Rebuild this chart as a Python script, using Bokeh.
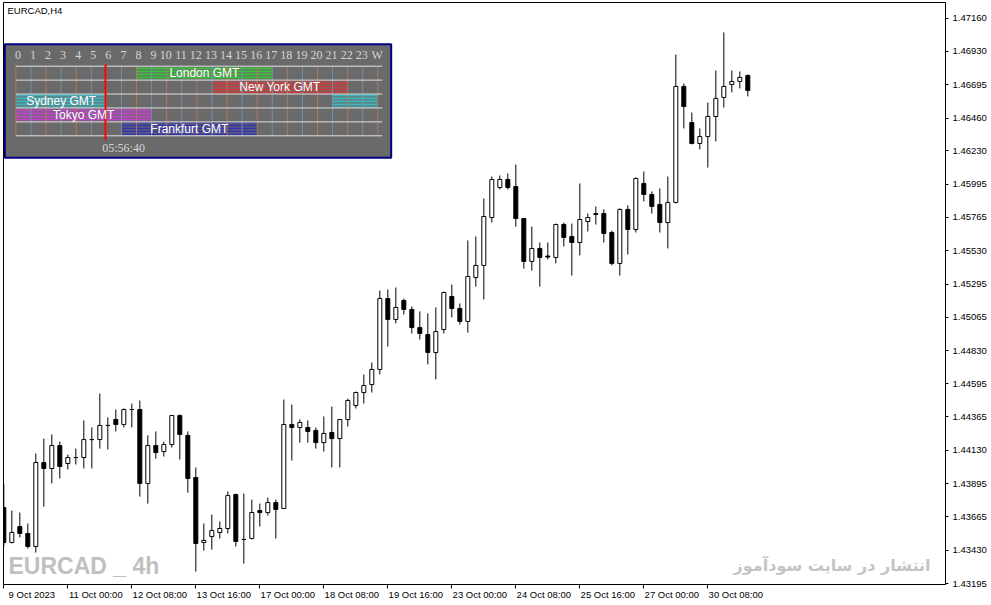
from bokeh.plotting import figure
from bokeh.models import Range1d, FixedTicker, PrintfTickFormatter, LinearAxis, ColumnDataSource
from bokeh.core.properties import value
from bokeh.embed import file_html
from bokeh.resources import INLINE

# ---------------- data ----------------
chart_title = "EURCAD,H4"
watermark = "EURCAD _ 4h"
publisher = "انتشار در سایت سودآموز"

opens = [1.43728, 1.43483, 1.43595, 1.43546, 1.43455, 1.44044, 1.44002, 1.44163, 1.44037, 1.44079,
         1.44079, 1.44205, 1.44205, 1.44304, 1.44346, 1.44311, 1.44416, 1.44416, 1.43897, 1.44163,
         1.44121, 1.44170, 1.44374, 1.44234, 1.43939, 1.43483, 1.43525, 1.43553, 1.43581, 1.43819,
         1.43504, 1.43511, 1.43707, 1.43693, 1.43763, 1.43721, 1.44311, 1.44290, 1.44290, 1.44269,
         1.44184, 1.44255, 1.44212, 1.44346, 1.44444, 1.44535, 1.44591, 1.44697, 1.45195, 1.45048,
         1.45181, 1.45118, 1.44991, 1.44942, 1.44816, 1.44977, 1.45209, 1.45125, 1.45034, 1.45342,
         1.45427, 1.45763, 1.45974, 1.46030, 1.45981, 1.45756, 1.45455, 1.45546, 1.45493, 1.45483,
         1.45714, 1.45630, 1.45588, 1.45735, 1.45791, 1.45791, 1.45658, 1.45441, 1.45820, 1.45679,
         1.46002, 1.45925, 1.45855, 1.45728, 1.45869, 1.46683, 1.46430, 1.46283, 1.46332, 1.46472,
         1.46606, 1.46697, 1.46718, 1.46760]
highs = [1.43890, 1.43707, 1.43693, 1.43616, 1.44107, 1.44212, 1.44241, 1.44191, 1.44100, 1.44142,
         1.44339, 1.44290, 1.44528, 1.44360, 1.44416, 1.44423, 1.44458, 1.44479, 1.44234, 1.44262,
         1.44191, 1.44374, 1.44381, 1.44262, 1.44009, 1.43616, 1.43679, 1.43630, 1.43840, 1.43826,
         1.43826, 1.43784, 1.43756, 1.43798, 1.43784, 1.44486, 1.44451, 1.44346, 1.44339, 1.44290,
         1.44367, 1.44437, 1.44346, 1.44493, 1.44542, 1.44662, 1.44746, 1.45251, 1.45258, 1.45272,
         1.45195, 1.45139, 1.45104, 1.45090, 1.45132, 1.45244, 1.45293, 1.45160, 1.45602, 1.45630,
         1.45897, 1.46051, 1.46058, 1.46072, 1.46135, 1.45756, 1.45700, 1.45588, 1.45588, 1.45721,
         1.45728, 1.45721, 1.46002, 1.45791, 1.45841, 1.45820, 1.45672, 1.45827, 1.45848, 1.46044,
         1.46086, 1.45946, 1.45967, 1.46051, 1.46907, 1.46704, 1.46500, 1.46388, 1.46570, 1.46795,
         1.47062, 1.46795, 1.46788, 1.46767]
lows = [1.43455, 1.43476, 1.43518, 1.43440, 1.43412, 1.43735, 1.43897, 1.43932, 1.43995, 1.44030,
        1.44002, 1.44002, 1.44142, 1.44135, 1.44262, 1.44290, 1.44290, 1.43805, 1.43756, 1.44072,
        1.44086, 1.44149, 1.44065, 1.43833, 1.43279, 1.43426, 1.43433, 1.43511, 1.43546, 1.43455,
        1.43335, 1.43504, 1.43595, 1.43672, 1.43511, 1.43721, 1.44058, 1.44184, 1.44184, 1.44142,
        1.44121, 1.44009, 1.44009, 1.44297, 1.44423, 1.44458, 1.44535, 1.44662, 1.44858, 1.45020,
        1.45083, 1.44949, 1.44907, 1.44732, 1.44627, 1.44949, 1.45062, 1.45012, 1.44956, 1.45279,
        1.45188, 1.45728, 1.45960, 1.45960, 1.45700, 1.45405, 1.45391, 1.45279, 1.45469, 1.45441,
        1.45560, 1.45356, 1.45497, 1.45665, 1.45714, 1.45588, 1.45427, 1.45356, 1.45504, 1.45658,
        1.45876, 1.45791, 1.45658, 1.45546, 1.45862, 1.46388, 1.46276, 1.46241, 1.46114, 1.46297,
        1.46535, 1.46641, 1.46669, 1.46613]
closes = [1.43483, 1.43553, 1.43546, 1.43455, 1.44044, 1.44002, 1.44163, 1.44016, 1.44079, 1.44079,
          1.44205, 1.44205, 1.44304, 1.44304, 1.44311, 1.44416, 1.44416, 1.43897, 1.44163, 1.44114,
          1.44170, 1.44374, 1.44241, 1.43932, 1.43476, 1.43497, 1.43567, 1.43581, 1.43812, 1.43490,
          1.43504, 1.43693, 1.43693, 1.43763, 1.43714, 1.44311, 1.44290, 1.44325, 1.44262, 1.44184,
          1.44248, 1.44212, 1.44346, 1.44479, 1.44535, 1.44584, 1.44697, 1.45195, 1.45048, 1.45132,
          1.45118, 1.44991, 1.44949, 1.44816, 1.44963, 1.45237, 1.45125, 1.45034, 1.45349, 1.45427,
          1.45770, 1.46030, 1.46030, 1.45974, 1.45756, 1.45455, 1.45546, 1.45483, 1.45486, 1.45714,
          1.45623, 1.45588, 1.45749, 1.45763, 1.45784, 1.45651, 1.45441, 1.45820, 1.45679, 1.46037,
          1.45925, 1.45841, 1.45728, 1.45869, 1.46683, 1.46542, 1.46283, 1.46332, 1.46472, 1.46599,
          1.46683, 1.46718, 1.46746, 1.46655]

time_ticks = [0, 8, 16, 24, 32, 40, 48, 56, 64, 72, 80, 88]
time_labels = ["9 Oct 2023", "11 Oct 00:00", "12 Oct 08:00", "13 Oct 16:00", "17 Oct 00:00",
               "18 Oct 08:00", "19 Oct 16:00", "23 Oct 00:00", "24 Oct 08:00", "25 Oct 16:00",
               "27 Oct 00:00", "30 Oct 08:00"]
price_ticks = [1.47160, 1.46930, 1.46695, 1.46460, 1.46230, 1.45995, 1.45765, 1.45530, 1.45295,
               1.45065, 1.44830, 1.44595, 1.44365, 1.44130, 1.43895, 1.43665, 1.43430, 1.43195]

# session panel
hour_labels = ["0", "1", "2", "3", "4", "5", "6", "7", "8", "9", "10", "11", "12", "13", "14",
               "15", "16", "17", "18", "19", "20", "21", "22", "23", "W"]
session_names = ["London GMT", "New York GMT", "Sydney GMT", "Tokyo GMT", "Frankfurt GMT"]
session_start = [8, 13, 21, 0, 7]
session_end = [17, 22, 6, 9, 16]
session_colors = ["#3cc03c", "#c83c3c", "#3cb8c0", "#c044c8", "#3434a8"]
current_time = "05:56:40"

# ---------------- layout constants ----------------
FRAME_W, FRAME_H = 942, 582
BAR_PX = 8.0
HOUR_PX, HOUR0 = 15.08, 12.4
ROW_PX, ROW0 = 13.92, 63.7
LABEL_SHIFT = 3.5  # x-axis labels start right of their tick (in bars)
AXIS_FONT = "Liberation Sans"

x0 = -0.04
p = figure(frame_width=FRAME_W, frame_height=FRAME_H, output_backend="svg", toolbar_location=None,
           x_range=Range1d(x0, x0 + FRAME_W / BAR_PX),
           y_range=Range1d(1.43188, 1.47272),
           y_axis_location="right", min_border=0, min_border_left=3, min_border_top=2)
p.extra_x_ranges = {"px": Range1d(0, FRAME_W),
                    "hr": Range1d(-HOUR0 / HOUR_PX, (FRAME_W - HOUR0) / HOUR_PX),
                    "lbl": Range1d(x0 - LABEL_SHIFT, x0 + FRAME_W / BAR_PX - LABEL_SHIFT)}
p.extra_y_ranges = {"px": Range1d(FRAME_H, 0),
                    "row": Range1d((FRAME_H - ROW0) / ROW_PX, -ROW0 / ROW_PX)}

p.background_fill_color = "white"
p.border_fill_color = "white"
p.outline_line_color = "black"
p.outline_line_width = 1
p.grid.visible = False

# time axis: tick marks only
xa = p.xaxis[0]
xa.ticker = FixedTicker(ticks=time_ticks)
xa.major_label_overrides = {t: "" for t in time_ticks}
xa.major_label_text_font_size = "1px"
xa.major_label_standoff = 0
xa.major_tick_out = 4
xa.major_tick_in = 0
xa.minor_tick_line_color = None
xa.axis_line_color = "black"
xa.major_tick_line_color = "black"

# time axis labels (left-aligned look, drawn by a shifted axis)
xl = LinearAxis(x_range_name="lbl", ticker=FixedTicker(ticks=time_ticks),
                major_label_overrides={t: l for t, l in zip(time_ticks, time_labels)},
                major_label_text_font=AXIS_FONT, major_label_text_font_size="9.5px",
                major_label_text_color="black", major_label_standoff=0,
                major_tick_out=0, major_tick_in=0, minor_tick_line_color=None,
                major_tick_line_color=None, axis_line_color=None)
p.add_layout(xl, "below")

ya = p.yaxis[0]
ya.ticker = FixedTicker(ticks=price_ticks)
ya.formatter = PrintfTickFormatter(format="%.5f")
ya.major_label_text_font = AXIS_FONT
ya.major_label_text_font_size = "9.5px"
ya.major_label_text_color = "black"
ya.major_label_standoff = 4
ya.major_tick_out = 3
ya.major_tick_in = 0
ya.minor_tick_line_color = None
ya.axis_line_color = "black"
ya.major_tick_line_color = "black"

# candles
idx = list(range(len(opens)))
src = ColumnDataSource(dict(
    x=idx, o=opens, h=highs, l=lows, c=closes,
    top=[max(o, c) for o, c in zip(opens, closes)],
    bot=[min(o, c) for o, c in zip(opens, closes)],
    fill=["white" if c >= o else "black" for o, c in zip(opens, closes)],
))
p.segment(x0="x", y0="l", x1="x", y1="h", source=src, line_color="black", line_width=1)
p.vbar(x="x", top="top", bottom="bot", width=0.5, source=src, fill_color="fill",
       line_color="black", line_width=1)

# texts on chart
p.text(x=[4], y=[2.5], text=[chart_title], x_range_name="px", y_range_name="px",
       text_align="left", text_baseline="top", text_font=value(AXIS_FONT),
       text_font_size="9.5px", text_color="black")
p.text(x=[5], y=[FRAME_H - 18.5], text=[watermark], x_range_name="px", y_range_name="px",
       text_align="left", text_baseline="middle", text_font=value(AXIS_FONT),
       text_font_style="bold", text_font_size="23px", text_color="#c0c0c0")
p.text(x=[FRAME_W - 15], y=[FRAME_H - 19], text=[publisher], x_range_name="px", y_range_name="px",
       text_align="right", text_baseline="middle", text_font=value("DejaVu Sans"),
       text_font_style="bold", text_font_size="16px", text_color="#c4c4c4")

# session panel box
p.quad(left=[1.3], right=[387.7], top=[41.7], bottom=[155.3], x_range_name="px", y_range_name="px",
       fill_color="#6a6a6a", line_color="#000080", line_width=2)

seg_l, seg_r, seg_t, seg_b, seg_c = [], [], [], [], []
lab_x, lab_y = [], []
for i, (s, e, col) in enumerate(zip(session_start, session_end, session_colors)):
    parts = [(s, e)] if s < e else [(0, e), (s, 24)]
    for a, b in parts:
        seg_l.append(a); seg_r.append(b); seg_t.append(i + 0.04); seg_b.append(i + 0.96); seg_c.append(col)
    lab_x.append((parts[0][0] + parts[0][1]) / 2)
    lab_y.append(i + 0.5)
p.quad(left=seg_l, right=seg_r, top=seg_t, bottom=seg_b, x_range_name="hr", y_range_name="row",
       fill_color=seg_c, fill_alpha=0.4, line_color=None,
       hatch_pattern="horizontal_line", hatch_color=seg_c, hatch_scale=3.0, hatch_weight=1.4)

hours = list(range(len(hour_labels)))
n_rows = len(session_names)
p.segment(x0=hours, y0=[0] * len(hours), x1=hours, y1=[n_rows] * len(hours),
          x_range_name="hr", y_range_name="row",
          line_color=["#b57c5e" if h % 2 == 0 else "#7098b8" for h in hours], line_width=1,
          line_alpha=0.85)
rows = list(range(n_rows + 1))
p.segment(x0=[0] * len(rows), y0=rows, x1=[24.3] * len(rows), y1=rows,
          x_range_name="hr", y_range_name="row", line_color="#dedede", line_width=1)

p.text(x=[h + 0.33 for h in hours], y=[-0.8] * len(hours), text=hour_labels,
       x_range_name="hr", y_range_name="row", text_align="right", text_baseline="middle",
       text_font=value("Liberation Serif"), text_font_size="12px", text_color="#d6d6d6")

hh, mm, ss = [int(v) for v in current_time.split(":")]
cur_h = hh + mm / 60 + ss / 3600
p.segment(x0=[cur_h], y0=[-0.12], x1=[cur_h], y1=[n_rows + 0.3], x_range_name="hr", y_range_name="row",
          line_color="#ff0000", line_width=2)
p.text(x=[cur_h - 0.22], y=[n_rows + 0.9], text=[current_time], x_range_name="hr", y_range_name="row",
       text_align="left", text_baseline="middle", text_font=value("Liberation Serif"),
       text_font_size="12px", text_color="#d6d6d6")

p.text(x=lab_x, y=lab_y, text=session_names, x_range_name="hr", y_range_name="row",
       text_align="center", text_baseline="middle", text_font=value("Liberation Sans"),
       text_font_size="12px", text_color="white")

open("out.html", "w").write(file_html(p, INLINE))
